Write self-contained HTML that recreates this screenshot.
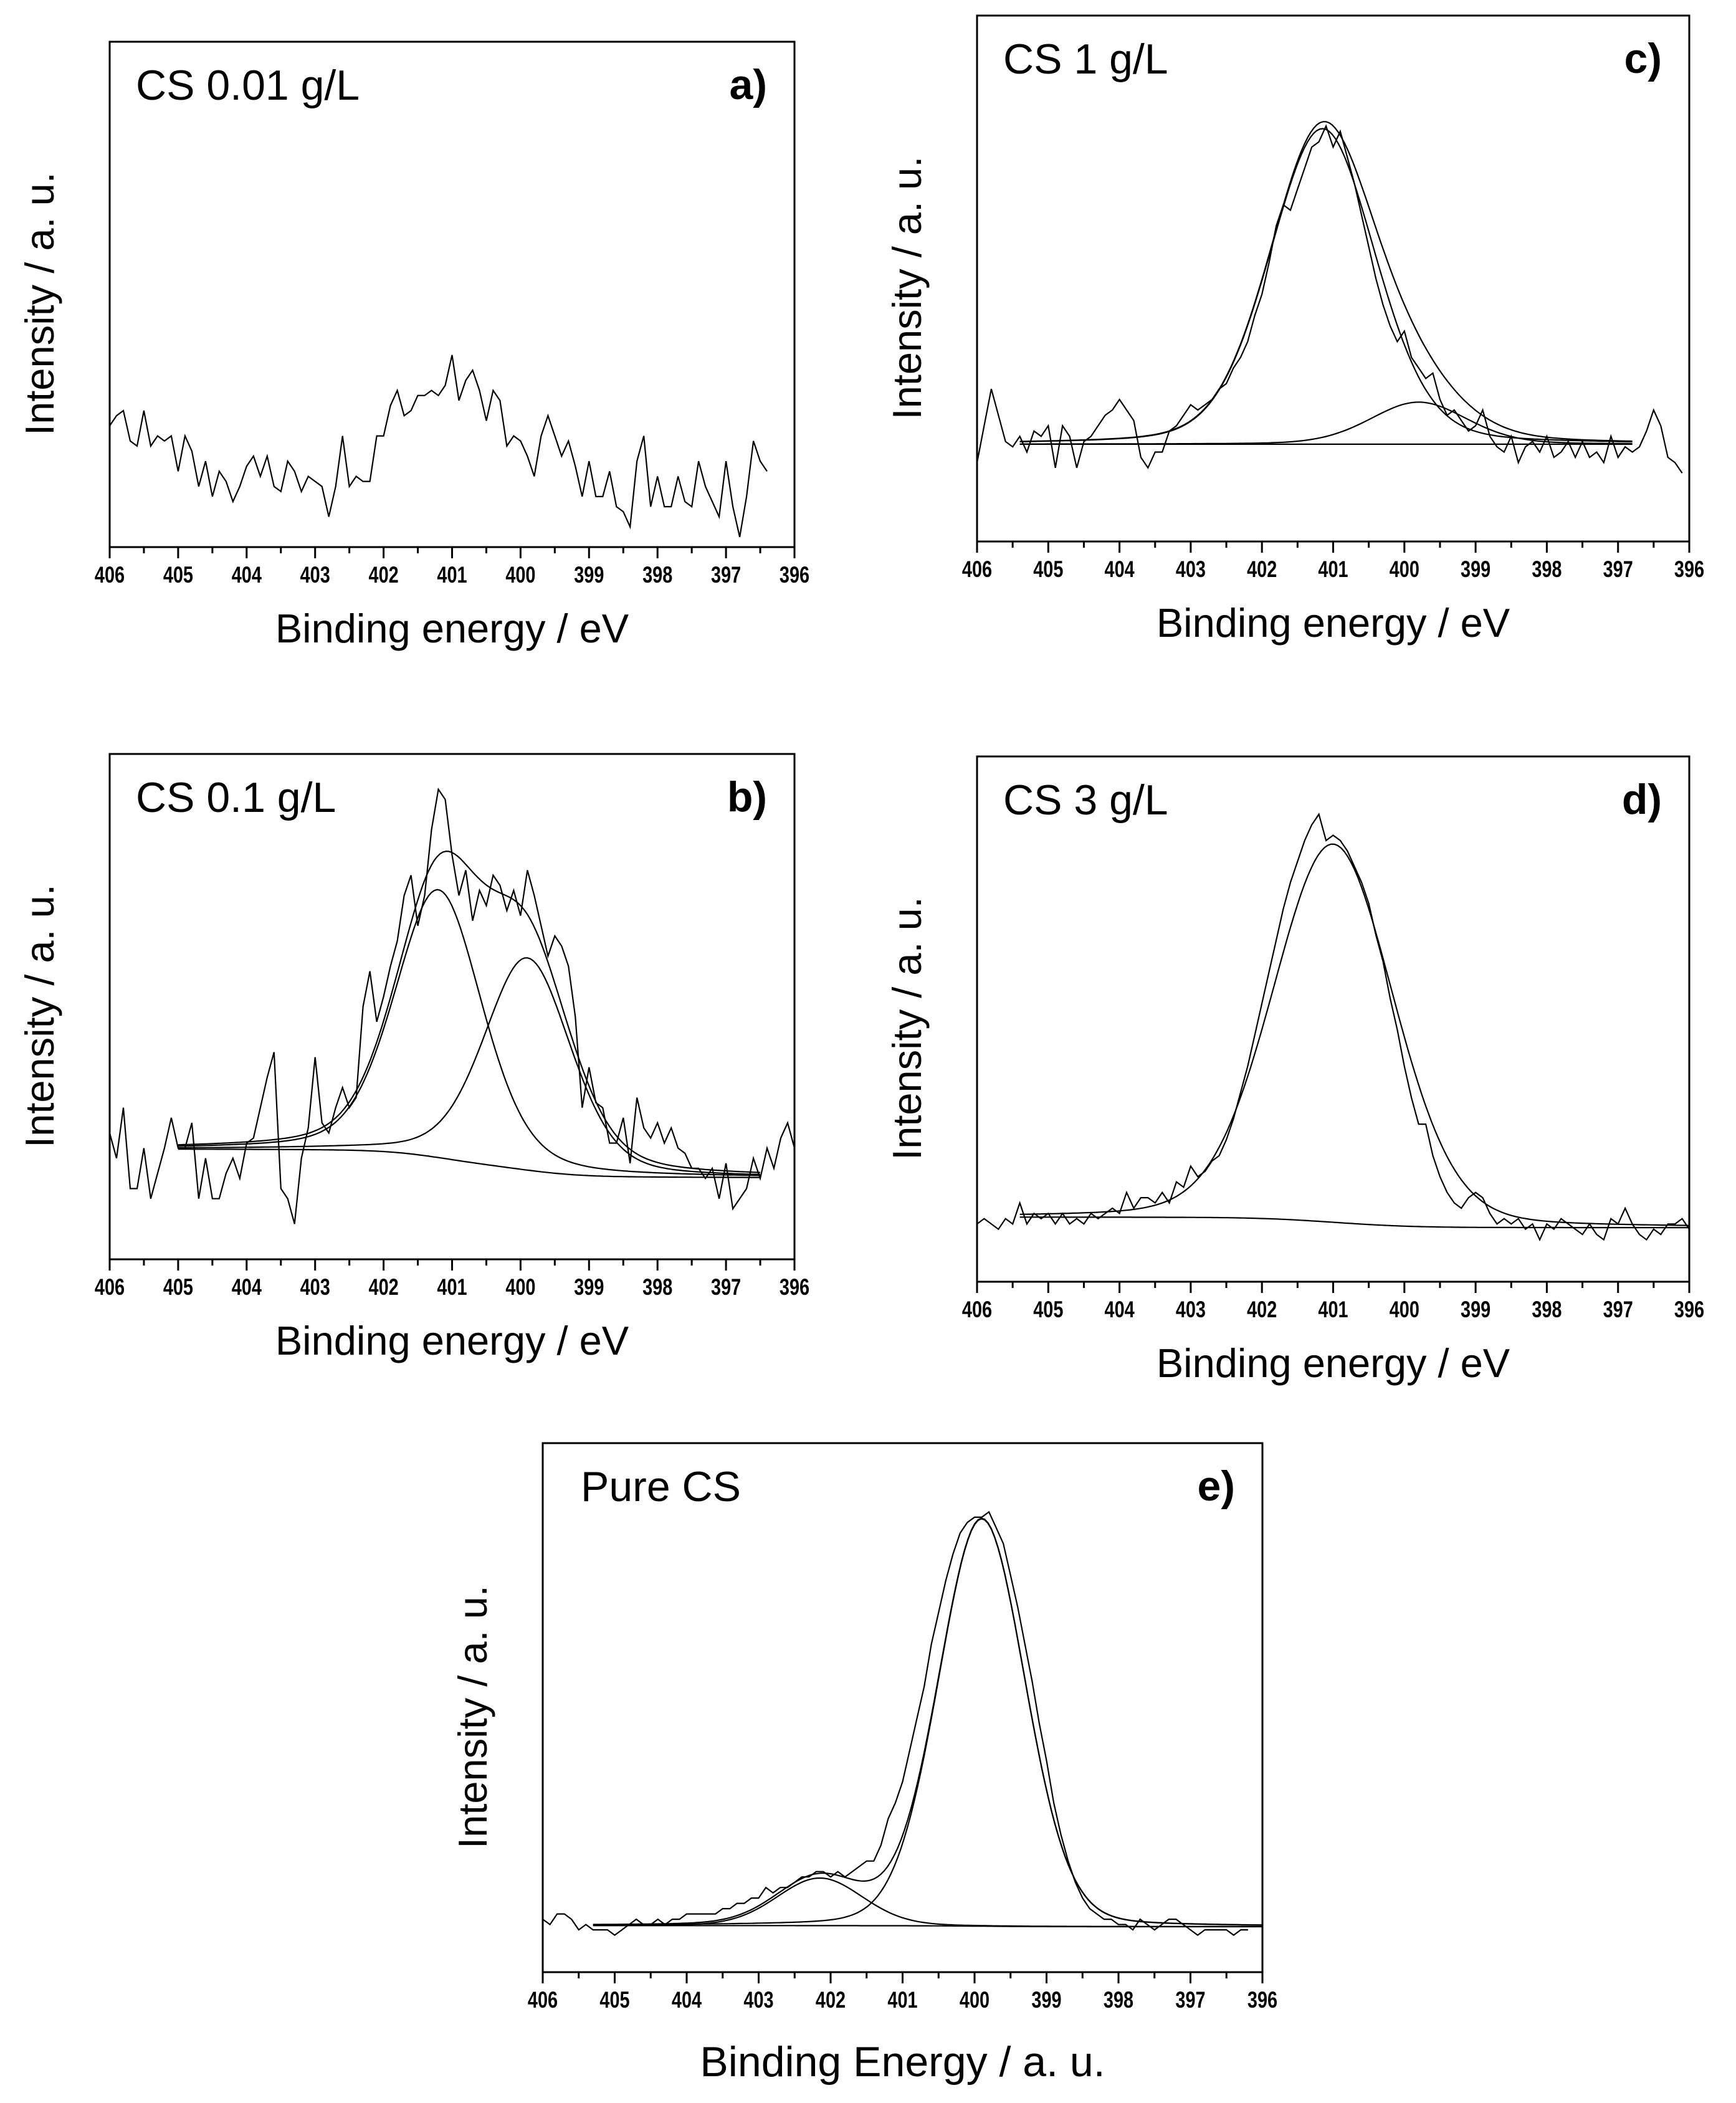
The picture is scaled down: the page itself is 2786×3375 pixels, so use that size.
<!DOCTYPE html>
<html><head><meta charset="utf-8">
<style>
html,body{margin:0;padding:0;background:#fff;}
svg{display:block;}
text{font-family:"Liberation Sans",Arial,sans-serif;fill:#000;}
</style></head>
<body>
<svg id="fig" width="2786" height="3375" viewBox="0 0 2786 3375" xmlns="http://www.w3.org/2000/svg"></svg>
<script>
// ---- Data (binding energy grid: 406 -> lower, step 0.1 eV) ----
const rawA = [24,26,27,21,20,27,20,22,21,22,15,22,19,12,17,10,15,13,9,12,16,18,14,18,12,11,17,15,11,14,13,12,6,12,22,12,14,13,13,22,22,28,31,26,27,30,30,31,30,32,38,29,33,35,31,25,31,29,20,22,21,18,14,22,26,22,18,21,16,10,17,10,10,15,8,7,4,17,22,8,14,8,8,14,9,8,17,12,9,6,17,8,2,10,21,17,15];
const rawB = [25,20,30,14,14,22,12,17,22,28,22,22,27,12,20,12,12,17,20,16,23,24,30,36,41,14,12,7,20,26,40,27,25,30,34,30,32,50,57,47,52,58,63,72,76,66,72,85,93,91,80,72,77,67,73,70,76,74,69,73,68,77,72,66,60,64,62,58,48,30,38,31,30,23,23,28,19,32,26,24,27,23,26,22,21,18,18,16,18,12,19,10,12,14,20,16,22,18,24,27,22];
const rawC = [15,22,29,24,19,18,20,17,21,20,22,14,22,20,14,19,20,22,24,25,27,25,23,16,14,17,17,21,22,24,26,25,26,27,29,30,33,35,38,43,47,53,60,64,63,67,71,75,76,79,75,78,73,68,62,56,50,45,41,38,40,35,33,31,32,27,24,25,23,21,22,25,20,18,17,20,15,18,19,17,20,16,17,19,16,19,16,17,15,20,16,18,17,18,21,25,22,16,15,13];
const rawD = [11,12,11,10,12,11,15,11,13,12,13,11,13,11,12,11,13,12,13,14,13,17,14,16,16,15,17,15,19,18,22,20,21,23,24,27,31,36,41,47,53,59,65,71,76,80,84,87,89,84,85,84,82,79,76,72,66,61,54,48,41,35,30,30,24,20,17,15,14,16,17,16,13,11,12,11,12,10,11,8,11,10,12,11,10,9,11,9,8,12,11,14,11,9,8,10,9,11,11,12,10];
const rawE = [10,9,11,11,10,8,9,8,8,8,7,8,9,10,9,9,10,9,10,10,11,11,11,11,11,12,12,13,13,14,14,16,15,16,16,17,18,18,19,19,18,19,18,19,20,21,21,24,29,32,36,42,48,54,62,68,74,79,83,85,86,86,87,84,81,75,69,62,55,47,40,32,26,21,17,14,12,11,10,10,9,9,8,10,9,8,9,10,10,9,8,7,8,8,8,8,7,8,8];
// fit component parameters: centers (eV), heights, FWHM (eV)
const centersB = [401.2, 399.9];  const heightsB = [53, 42];  const fwhmB = [1.5, 1.5];
const centersC = [401.15, 399.8]; const heightsC = [60, 8];   const fwhmC = [1.75, 1.6];
const centersD = [401.0];         const heightsD = [72];      const fwhmD = [2.0];
const centersE = [399.9, 402.15]; const heightsE = [77, 9];   const fwhmE = [1.42, 1.4];
// background end levels [high-BE side, low-BE side] and fit range [start, end]
const bgB = [21.8, 16.2]; const rangeB = [405.0, 396.5];
const bgC = [18.5, 18.5]; const rangeC = [405.4, 396.8];
const bgD = [12.3, 10.3]; const rangeD = [405.4, 396.0];
const bgE = [8.8, 8.6];   const rangeE = [405.3, 396.0];
const etaList = {b:0.3, c:0.2, d:0.15, e:0.12};
const tickLabels = ["406","405","404","403","402","401","400","399","398","397","396"];
const tickValues = [406,405,404,403,402,401,400,399,398,397,396];

const NS = "http://www.w3.org/2000/svg";
const svg = document.getElementById('fig');
function mk(tag, attrs, parent){
  const e = document.createElementNS(NS, tag);
  for (const k in attrs) e.setAttribute(k, attrs[k]);
  (parent||svg).appendChild(e);
  return e;
}
function pv(x, c, h, w, eta){ const d=(x-c)/w; return h*((1-eta)*Math.exp(-4*Math.LN2*d*d)+eta/(1+4*d*d)); }

function panel(key, box, label, letter, labelDx, xTitle, xTitleSize, raw, fit){
  const g = mk('g', {});
  
  
  const L=box[0], R=box[1], T=box[2], B=box[3];
  const xs = v => L + (406 - v) / 10 * (R - L);
  const ys = v => B - v / 100 * (B - T);
  const fr = mk('rect', {x:L, y:T, width:R-L, height:B-T, fill:'none', stroke:'#000', 'stroke-width':3}, g);
  
  
  for (let i=0;i<=20;i++){
    const v = 406 - i*0.5; const x = xs(v); const major = i%2===0;
    const t = mk('line', {x1:x, x2:x, y1:B, y2:B+(major?18:10), stroke:'#000', 'stroke-width':3}, g);
    
    
  }
  tickValues.forEach((v,i)=>{
    const x = xs(v);
    const t = mk('text', {x:0, y:0, 'font-size':37, 'font-weight':'bold', 'text-anchor':'middle', transform:`translate(${x},${B+57}) scale(0.78,1)`}, g);
    t.textContent = tickLabels[i];
    
    
  });
  const xt = mk('text', {x:(L+R)/2, y:B+(xTitleSize>66?167:153), 'font-size':xTitleSize, 'text-anchor':'middle'}, g);
  xt.textContent = xTitle;
  
  
  const yt = mk('text', {x:0, y:0, 'font-size':65, 'text-anchor':'middle', transform:`translate(${L-90},${(T+B)/2+15}) rotate(-90)`}, g);
  yt.textContent = 'Intensity / a. u.';
  
  
  const lb = mk('text', {x:L+labelDx, y:T+93, 'font-size':68}, g);
  lb.textContent = label;
  
  
  const lt = mk('text', {x:R-44, y:T+92, 'font-size':68, 'font-weight':'bold', 'text-anchor':'end'}, g);
  lt.textContent = letter;
  
  
  const pts = raw.map((v,i)=> xs(406 - i*0.1).toFixed(1)+','+ys(v).toFixed(1)).join(' ');
  const rl = mk('polyline', {points:pts, fill:'none', stroke:'#000', 'stroke-width':2.2, 'stroke-linejoin':'miter'}, g);
  
  
  if (!fit) return;
  const [centers, heights, fwhm, bg, range] = fit;
  const eta = etaList[key];
  const N = 200, xsArr = [];
  for (let i=0;i<=N;i++) xsArr.push(range[0] + (range[1]-range[0])*i/N);
  const peakSum = x => centers.reduce((s,c,j)=> s + pv(x,c,heights[j],fwhm[j],eta), 0);
  const cum = new Array(N+1).fill(0);
  for (let i=N-1;i>=0;i--) cum[i] = cum[i+1] + peakSum(xsArr[i]);
  const tot = cum[0] || 1;
  const bgv = cum.map(c => bg[1] + (bg[0]-bg[1]) * c / tot);
  const line = (vals, name) => {
    const p = vals.map((v,i)=> xs(xsArr[i]).toFixed(1)+','+ys(v).toFixed(1)).join(' ');
    const e = mk('polyline', {points:p, fill:'none', stroke:'#000', 'stroke-width':2.2}, g);
    
    
  };
  line(bgv, 'background-line');
  if (centers.length > 1) {
    centers.forEach((c,j)=> line(xsArr.map((x,i)=> bgv[i] + pv(x,c,heights[j],fwhm[j],eta)), 'fit-component-'+(j+1)));
  }
  line(xsArr.map((x,i)=> bgv[i] + peakSum(x)), 'fit-envelope');
}

panel('a', [176,1275,67,878], 'CS 0.01 g/L', 'a)', 42, 'Binding energy / eV', 65, rawA, null);
panel('b', [176,1275,1210,2021], 'CS 0.1 g/L', 'b)', 42, 'Binding energy / eV', 65, rawB, [centersB, heightsB, fwhmB, bgB, rangeB]);
panel('c', [1568,2711,25,869], 'CS 1 g/L', 'c)', 42, 'Binding energy / eV', 65, rawC, [centersC, heightsC, fwhmC, bgC, rangeC]);
panel('d', [1568,2711,1214,2057], 'CS 3 g/L', 'd)', 42, 'Binding energy / eV', 65, rawD, [centersD, heightsD, fwhmD, bgD, rangeD]);
panel('e', [871,2026,2316,3165], 'Pure CS', 'e)', 61, 'Binding Energy / a. u.', 68, rawE, [centersE, heightsE, fwhmE, bgE, rangeE]);
</script>
</body></html>
